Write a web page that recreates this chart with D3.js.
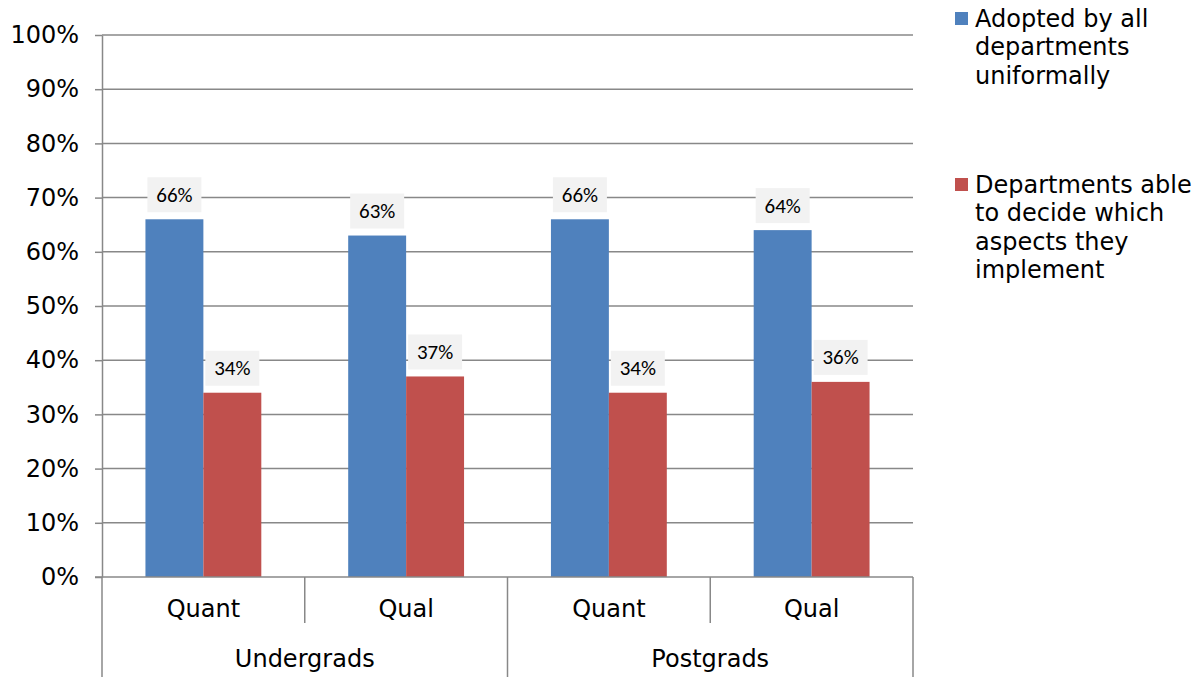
<!DOCTYPE html>
<html>
<head>
<meta charset="utf-8">
<script src="https://cdn.jsdelivr.net/npm/d3@7"></script>
<style>
  html, body { margin: 0; padding: 0; background: #fff; }
  svg { display: block; }
</style>
</head>
<body>
<svg id="chart" width="1200" height="677"></svg>
<script>
// Survey results: how the approach is applied across departments
const groups = ["Undergrads", "Postgrads"];
const subCategories = ["Quant", "Qual", "Quant", "Qual"];
const groupOf = ["Undergrads", "Undergrads", "Postgrads", "Postgrads"];
const seriesNames = [
  ["Adopted by all", "departments", "uniformally"],
  ["Departments able", "to decide which", "aspects they", "implement"]
];
const adoptedAll = [66, 63, 66, 64];
const departmentChoice = [34, 37, 34, 36];
const yTicks = [0, 10, 20, 30, 40, 50, 60, 70, 80, 90, 100];
const colors = ["#4f81bd", "#c0504d"];

const svg = d3.select("#chart");
const plotLeft = 102, plotRight = 913, plotTop = 35, plotBottom = 577;
const axisFont = "'DejaVu Sans', Verdana, sans-serif";
const axisSize = 24;
const gridColor = "#888888";

const y = d3.scaleLinear().domain([0, 100]).range([plotBottom, plotTop]);
const idx = d3.range(subCategories.length);
const x = d3.scaleBand().domain(idx).range([plotLeft, plotRight]).paddingInner(0).paddingOuter(0);
const inner = d3.scaleBand().domain([0, 1]).range([0, x.bandwidth()]).paddingInner(0).paddingOuter(0.75);

// gridlines
svg.append("g").selectAll("line").data(yTicks.filter(t => t > 0)).join("line")
  .attr("x1", plotLeft).attr("x2", plotRight)
  .attr("y1", d => y(d)).attr("y2", d => y(d))
  .attr("stroke", gridColor).attr("stroke-width", 1.5);

// y axis
const yAxis = svg.append("g").attr("transform", `translate(${plotLeft},0)`)
  .call(d3.axisLeft(y).tickValues(yTicks).tickFormat(d => d + "%").tickSizeInner(7).tickSizeOuter(0).tickPadding(16));
yAxis.select(".domain").attr("stroke", gridColor).attr("stroke-width", 1.5);
yAxis.selectAll(".tick line").attr("stroke", gridColor).attr("stroke-width", 1.5);
yAxis.selectAll("text").attr("font-family", axisFont).attr("font-size", axisSize).attr("fill", "#000");

// bars
const series = [adoptedAll, departmentChoice];
series.forEach((vals, s) => {
  svg.append("g").selectAll("rect").data(vals).join("rect")
    .attr("x", (d, i) => x(i) + inner(s))
    .attr("y", d => y(d))
    .attr("width", inner.bandwidth())
    .attr("height", d => y(0) - y(d))
    .attr("fill", colors[s]);
});

// data labels with light boxes
series.forEach((vals, s) => {
  const g = svg.append("g").selectAll("g").data(vals).join("g")
    .attr("transform", (d, i) => `translate(${x(i) + inner(s) + inner.bandwidth() / 2},${y(d) - 25})`);
  g.append("rect").attr("x", -27).attr("y", -17).attr("width", 54).attr("height", 35).attr("fill", "#f2f2f2");
  g.append("text").attr("text-anchor", "middle").attr("dy", "0.36em")
    .attr("font-family", "Carlito, Lato, 'Open Sans', sans-serif").attr("font-size", 21).attr("fill", "#000")
    .text(d => d + "%");
});

// x axis baseline and category separators
const axisG = svg.append("g");
axisG.append("line").attr("x1", plotLeft - 7).attr("x2", plotRight).attr("y1", plotBottom).attr("y2", plotBottom)
  .attr("stroke", gridColor).attr("stroke-width", 1.5);
const bounds = idx.map(i => x(i)).concat([plotRight]);
axisG.selectAll("line.sep").data(bounds).join("line").attr("class", "sep")
  .attr("x1", d => d).attr("x2", d => d)
  .attr("y1", plotBottom)
  .attr("y2", (d, i) => (i % 2 === 0) ? 677 : 623)
  .attr("stroke", gridColor).attr("stroke-width", 1.5);

axisG.selectAll("text.sub").data(subCategories).join("text").attr("class", "sub")
  .attr("x", (d, i) => x(i) + x.bandwidth() / 2).attr("y", 617)
  .attr("text-anchor", "middle").attr("font-family", axisFont).attr("font-size", axisSize).attr("fill", "#000")
  .text(d => d);

axisG.selectAll("text.grp").data(groups).join("text").attr("class", "grp")
  .attr("x", g => {
    const members = idx.filter(i => groupOf[i] === g);
    return (x(members[0]) + x(members[members.length - 1]) + x.bandwidth()) / 2;
  })
  .attr("y", 667)
  .attr("text-anchor", "middle").attr("font-family", axisFont).attr("font-size", axisSize).attr("fill", "#000")
  .text(d => d);

// legend
const legendTops = [12, 178];
seriesNames.forEach((lines, s) => {
  const lg = svg.append("g").attr("transform", `translate(955,${legendTops[s]})`);
  lg.append("rect").attr("width", 13).attr("height", 13).attr("fill", colors[s]);
  lg.append("text").attr("font-family", axisFont).attr("font-size", axisSize).attr("fill", "#000")
    .selectAll("tspan").data(lines).join("tspan")
    .attr("x", 20).attr("y", (d, i) => 14.5 + i * 28.5)
    .text(d => d);
});
</script>
</body>
</html>
